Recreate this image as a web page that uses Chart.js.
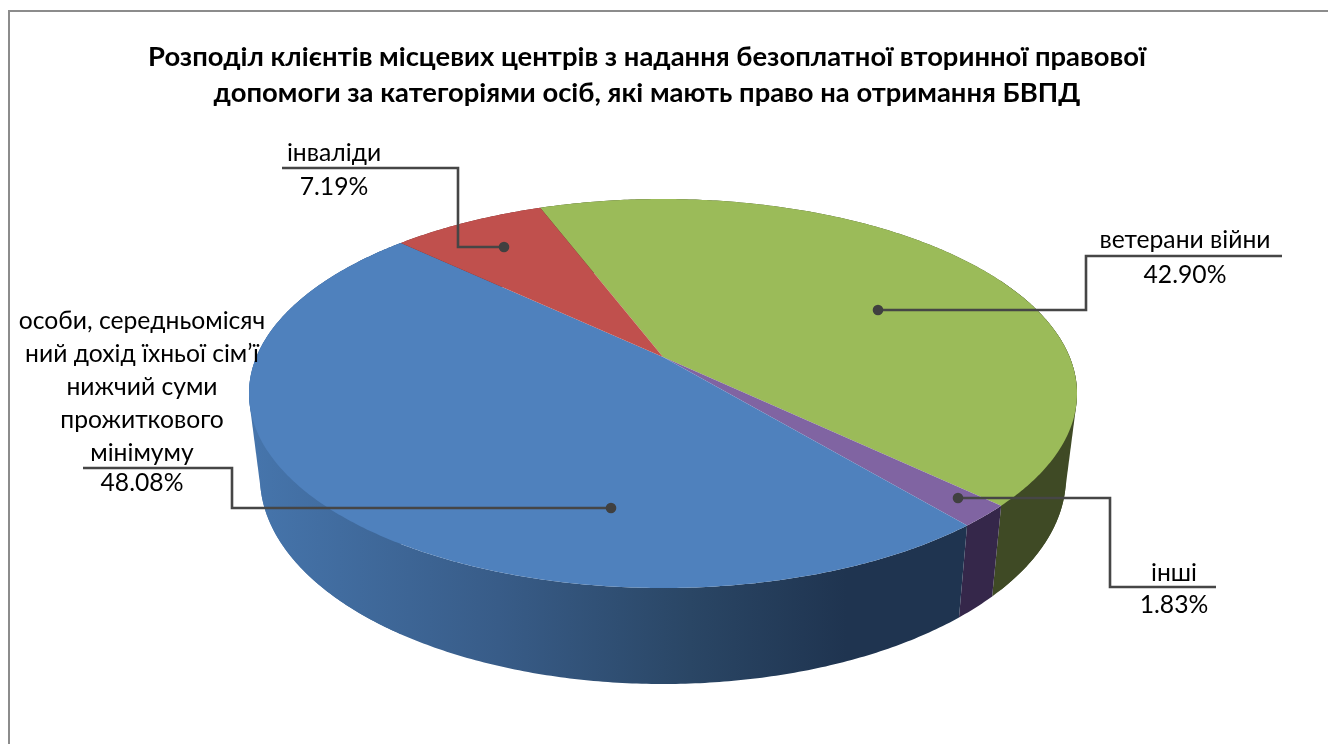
<!DOCTYPE html>
<html lang="uk">
<head>
<meta charset="utf-8">
<style>
html,body{margin:0;padding:0;background:#fff;overflow:hidden}
#frame{position:absolute;left:8px;top:10px;width:1400px;height:800px;border:2px solid #8c8c8c;box-sizing:border-box}
canvas{position:absolute;left:0;top:0}
</style>
<script src="https://cdn.jsdelivr.net/npm/chart.js@4"></script>
</head>
<body>
<div id="frame"></div>
<canvas id="c" width="1328" height="744"></canvas>
<script>
const titleLines = [
  'Розподіл клієнтів місцевих центрів з надання безоплатної вторинної правової',
  'допомоги за категоріями осіб, які мають право на отримання БВПД'
];
const categories = [
  ['ветерани війни'],
  ['інші'],
  ['особи, середньомісяч', 'ний дохід їхньої сім’ї', 'нижчий суми', 'прожиткового', 'мінімуму'],
  ['інваліди']
];
const shares = [42.90, 1.83, 48.08, 7.19];
const faceColors = ['#9bbb59', '#8064a2', '#4f81bd', '#c0504d'];
const wallColors = ['#3f4a25', '#35274a', null, '#6b2a28'];

const TEXT_FONT = '24.7px Lato, "Open Sans", sans-serif';
const TITLE_FONT = { family: 'Lato, "Open Sans", sans-serif', size: 27.4, weight: 'bold', lineHeight: 1.314 };

// projection of the disc: perspective ellipse for top and bottom rims
const topRim = { cx: 663, cy: 393.5, rx: 414, ry: 194.5 };
const bottomRim = { cx: 663, cy: 477, rx: 403, ry: 207 };
const tilt = 0.188;
const project = (rim, a, r = 1) => {
  const x = r * Math.cos(a), y = r * Math.sin(a), d = 1 - tilt * y;
  return [rim.cx + rim.rx * x * Math.sqrt(1 - tilt * tilt) / d, rim.cy + rim.ry * (y - tilt) / d];
};
const arcPoints = (rim, a0, a1) => {
  const n = Math.max(2, Math.ceil(Math.abs(a1 - a0) / 0.01)), pts = [];
  for (let i = 0; i <= n; i++) pts.push(project(rim, a0 + (a1 - a0) * i / n));
  return pts;
};
const cross = (o, a, b) => (a[0] - o[0]) * (b[1] - o[1]) - (a[1] - o[1]) * (b[0] - o[0]);
const convexHull = pts => {
  const s = pts.slice().sort((p, q) => p[0] - q[0] || p[1] - q[1]);
  const half = list => {
    const h = [];
    list.forEach(p => {
      while (h.length > 1 && cross(h[h.length - 2], h[h.length - 1], p) <= 0) h.pop();
      h.push(p);
    });
    h.pop();
    return h;
  };
  return half(s).concat(half(s.slice().reverse()));
};
const tracePoly = (ctx, pts) => {
  ctx.beginPath();
  pts.forEach((p, j) => j ? ctx.lineTo(p[0], p[1]) : ctx.moveTo(p[0], p[1]));
  ctx.closePath();
};

// label layout: line/value centres and leader polyline
const labelLayout = [
  { x: 1185, y: 240, valueY: 275, leader: [[1282, 256], [1086, 256], [1086, 310], [878, 310]] },
  { x: 1174, y: 573, valueY: 605, leader: [[1216, 587], [1110, 587], [1110, 498], [958, 498]] },
  { x: 142, y: 321, step: 33, valueY: 483, leader: [[83, 468], [232, 468], [232, 508], [611, 508]] },
  { x: 334, y: 153, valueY: 187, leader: [[282, 168], [458, 168], [458, 247], [504, 247]] }
];

const pie3d = {
  id: 'pie3d',
  beforeDatasetsDraw(chart) {
    const ctx = chart.ctx, arcs = chart.getDatasetMeta(0).data;
    const blueWall = ctx.createLinearGradient(250, 0, 960, 0);
    blueWall.addColorStop(0, '#4675ac');
    blueWall.addColorStop(0.35, '#385c88');
    blueWall.addColorStop(0.62, '#2a4665');
    blueWall.addColorStop(0.84, '#1f3450');
    blueWall.addColorStop(1, '#1f3450');
    ctx.save();
    // silhouette sides: straight edges joining the two rims
    const full = Math.PI * 2;
    const hull = convexHull(arcPoints(topRim, 0, full).concat(arcPoints(bottomRim, 0, full)));
    const sides = [
      { x0: 0, x1: project(topRim, arcs[2].endAngle)[0], fill: blueWall },
      { x0: project(topRim, arcs[0].endAngle)[0], x1: 1328, fill: wallColors[0] }
    ];
    sides.forEach(s => {
      ctx.save();
      ctx.beginPath();
      ctx.rect(s.x0, 0, s.x1 - s.x0, 744);
      ctx.clip();
      tracePoly(ctx, hull);
      ctx.fillStyle = s.fill;
      ctx.fill();
      ctx.restore();
    });
    // walls, back to front
    [3, 0, 1, 2].forEach(i => {
      const a = arcs[i];
      tracePoly(ctx, arcPoints(topRim, a.startAngle, a.endAngle)
        .concat(arcPoints(bottomRim, a.endAngle, a.startAngle)));
      ctx.fillStyle = wallColors[i] || blueWall;
      ctx.fill();
    });
    // top faces
    arcs.forEach((a, i) => {
      tracePoly(ctx, [project(topRim, 0, 0)].concat(arcPoints(topRim, a.startAngle, a.endAngle)));
      ctx.fillStyle = a.options.backgroundColor;
      ctx.fill();
    });
    ctx.restore();
    return false;
  },
  afterDraw(chart) {
    const ctx = chart.ctx;
    ctx.save();
    ctx.font = TEXT_FONT;
    ctx.textAlign = 'center';
    ctx.textBaseline = 'middle';
    categories.forEach((lines, i) => {
      const l = labelLayout[i];
      ctx.strokeStyle = '#464646';
      ctx.lineWidth = 2.6;
      ctx.lineJoin = 'miter';
      ctx.beginPath();
      l.leader.forEach((p, j) => j ? ctx.lineTo(p[0], p[1]) : ctx.moveTo(p[0], p[1]));
      ctx.stroke();
      const end = l.leader[l.leader.length - 1];
      ctx.fillStyle = '#404040';
      ctx.beginPath();
      ctx.arc(end[0], end[1], 5.3, 0, Math.PI * 2);
      ctx.fill();
      ctx.fillStyle = '#000';
      lines.forEach((t, k) => ctx.fillText(t, l.x, l.y + k * (l.step || 0)));
      ctx.fillText(shares[i].toFixed(2) + '%', l.x, l.valueY);
    });
    ctx.restore();
  }
};

new Chart(document.getElementById('c'), {
  type: 'pie',
  data: {
    labels: categories.map(c => c.join(' ')),
    datasets: [{ data: shares, backgroundColor: faceColors, borderWidth: 0 }]
  },
  options: {
    responsive: false,
    animation: false,
    rotation: -20.8,
    layout: { padding: { right: 34 } },
    plugins: {
      legend: { display: false },
      tooltip: { enabled: false },
      title: { display: true, text: titleLines, color: '#000', font: TITLE_FONT, padding: { top: 39, bottom: 0 } }
    }
  },
  plugins: [pie3d]
});
</script>
</body>
</html>
